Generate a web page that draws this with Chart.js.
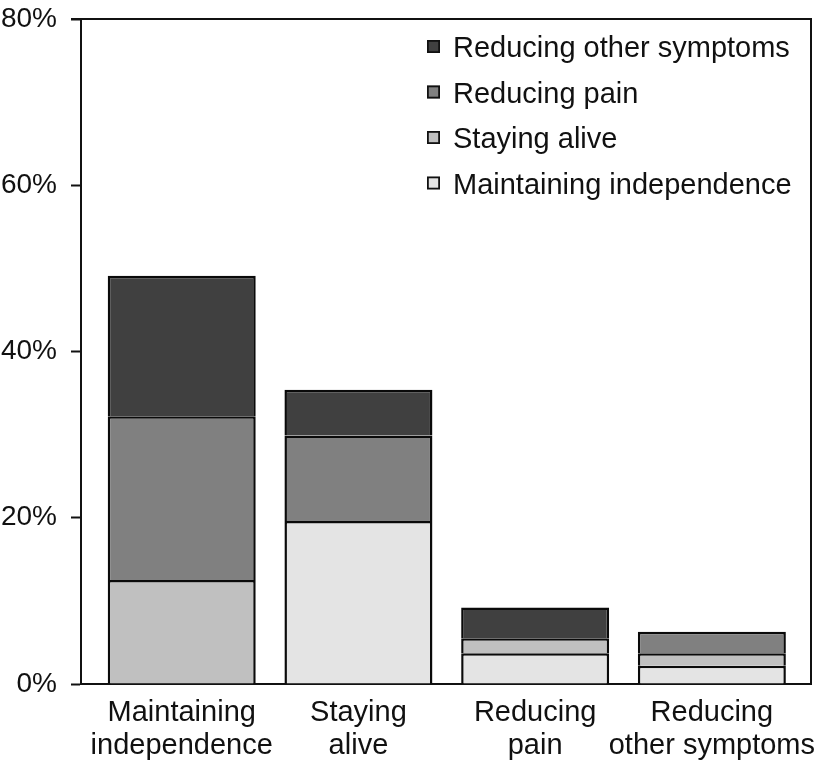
<!DOCTYPE html>
<html>
<head>
<meta charset="utf-8">
<script src="https://cdn.jsdelivr.net/npm/chart.js@4/dist/chart.umd.min.js"></script>
<style>
  html, body { margin: 0; padding: 0; background: #ffffff; }
  #wrap { position: relative; width: 821px; height: 761px; }
</style>
</head>
<body>
<div id="wrap"><canvas id="c" width="821" height="761"></canvas></div>
<script>
// Categories (x axis), split into lines as in the reference
const categories = [
  ["Maintaining", "independence"],
  ["Staying", "alive"],
  ["Reducing", "pain"],
  ["Reducing", "other symptoms"]
];
// Series names (stack order bottom -> top)
const seriesNames = ["Maintaining independence", "Staying alive", "Reducing pain", "Reducing other symptoms"];
// Series values (% of respondents), null = not present
const maintainingIndependence = [null, 19.6, 3.7, 2.2];
const stayingAlive            = [12.5, null, 1.8, 1.5];
const reducingPain            = [19.7, 10.3, null, 2.6];
const reducingOtherSymptoms   = [16.9, 5.5, 3.7, null];
// Y tick values
const yTicks = [0, 20, 40, 60, 80];

const seriesValues = [maintainingIndependence, stayingAlive, reducingPain, reducingOtherSymptoms];
const fills = ["#e4e4e4", "#c0c0c0", "#808080", "#404040"];

const datasets = seriesNames.map((name, s) => ({
  label: name,
  data: seriesValues[s].map((v, i) => ({ x: i, y: v })),
  backgroundColor: fills[s],
  borderColor: "#0a0a0a",
  borderWidth: 2.5,
  borderSkipped: "start",
  categoryPercentage: 1,
  barPercentage: 0.8375,
  stack: "s"
}));

const FONT = "'Liberation Sans', Arial, Helvetica, sans-serif";

const framePlugin = {
  id: "frame",
  afterDraw(chart) {
    const { ctx, chartArea: a } = chart;
    ctx.save();
    ctx.strokeStyle = "#111111";
    ctx.lineWidth = 2;
    ctx.beginPath();
    ctx.moveTo(a.left - 10, a.top);
    ctx.lineTo(a.right, a.top);
    ctx.lineTo(a.right, a.bottom);
    ctx.stroke();
    ctx.restore();
  }
};

const legendPlugin = {
  id: "innerLegend",
  afterDraw(chart) {
    const { ctx, chartArea: a } = chart;
    const ds = chart.data.datasets;
    ctx.save();
    ctx.font = "29px " + FONT;
    ctx.textBaseline = "alphabetic";
    ctx.textAlign = "left";
    const left = a.right - 384;
    const rowH = 45.5;
    for (let k = 0; k < ds.length; k++) {
      const d = ds[ds.length - 1 - k];
      const base = a.top + 38 + k * rowH;
      const by = base - 17;
      ctx.fillStyle = d.backgroundColor;
      ctx.fillRect(left, by, 13, 13);
      ctx.strokeStyle = "#111111";
      ctx.lineWidth = 1.8;
      ctx.strokeRect(left + 0.9, by + 0.9, 11.2, 11.2);
      ctx.fillStyle = "#111111";
      ctx.fillText(d.label, left + 26, base);
    }
    ctx.restore();
  }
};

new Chart(document.getElementById("c"), {
  type: "bar",
  data: { datasets },
  plugins: [framePlugin, legendPlugin],
  options: {
    responsive: false,
    animation: false,
    layout: { padding: { top: 19, right: 10, left: 0, bottom: 0 } },
    plugins: { legend: { display: false }, tooltip: { enabled: false } },
    scales: {
      x: {
        type: "linear",
        stacked: true,
        offset: false,
        min: -0.570,
        max: 3.561,
        afterBuildTicks: (scale) => { scale.ticks = categories.map((c, i) => ({ value: i })); },
        afterFit: (scale) => { scale.height = 77; scale.paddingLeft = 0; scale.paddingRight = 0; },
        grid: { display: false, drawTicks: false, offset: false },
        border: { display: true, color: "#111111", width: 2 },
        ticks: {
          autoSkip: false,
          maxRotation: 0,
          padding: 12,
          color: "#111111",
          font: { family: FONT, size: 29, lineHeight: 1.15 },
          callback: (v) => categories[v] || ""
        }
      },
      y: {
        stacked: true,
        min: 0,
        max: 80,
        afterBuildTicks: (scale) => { scale.ticks = yTicks.map(v => ({ value: v })); },
        afterFit: (scale) => { scale.width = 81; scale.paddingTop = 0; scale.paddingBottom = 0; },
        grid: { drawOnChartArea: false, drawTicks: true, tickLength: 10, tickWidth: 2, color: "#111111" },
        border: { display: true, color: "#111111", width: 2 },
        ticks: {
          padding: 14,
          color: "#111111",
          font: { family: FONT, size: 28 },
          callback: (v) => v + "%"
        }
      }
    }
  }
});
</script>
</body>
</html>
